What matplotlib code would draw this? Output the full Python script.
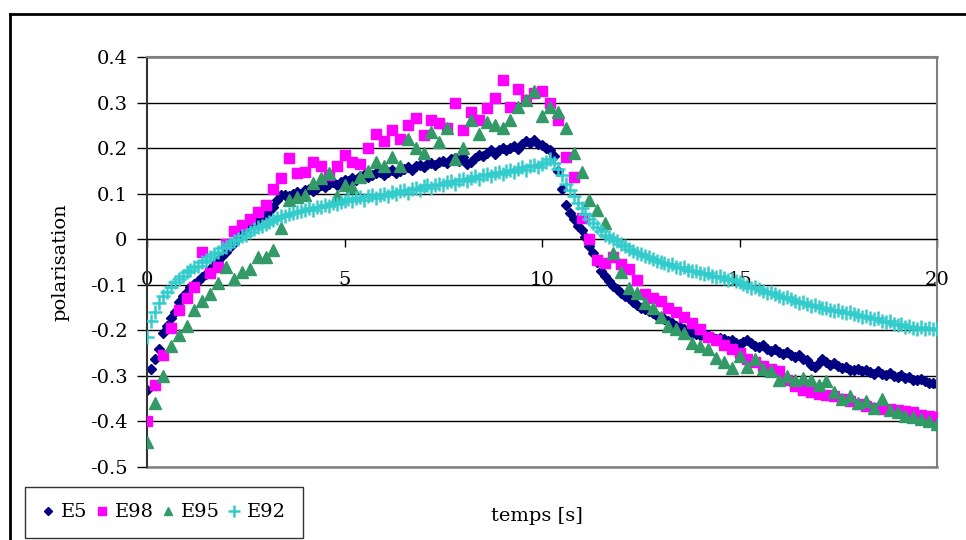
import numpy as np
import matplotlib
matplotlib.use('Agg')
import matplotlib.pyplot as plt
from matplotlib.lines import Line2D
from matplotlib.ticker import FuncFormatter

plt.rcParams['font.family'] = ['DejaVu Serif']

# time grids (ps)
t_fine = np.round(np.arange(0, 20.01, 0.1), 2)
t_coarse = np.round(np.arange(0, 20.01, 0.2), 2)

E5 = [-0.33, -0.285, -0.262, -0.24, -0.205, -0.19, -0.172, -0.16, -0.138, -0.125,
      -0.115, -0.104, -0.098, -0.092, -0.083, -0.077, -0.066, -0.056, -0.046, -0.036,
      -0.028, -0.018, -0.008, 0.004, 0.015, 0.026, 0.033, 0.038, 0.044, 0.05,
      0.054, 0.062, 0.07, 0.086, 0.096, 0.098, 0.094, 0.1, 0.104, 0.1,
      0.108, 0.11, 0.105, 0.112, 0.118, 0.115, 0.122, 0.125, 0.12, 0.126,
      0.13, 0.128, 0.135, 0.13, 0.138, 0.142, 0.136, 0.14, 0.145, 0.147,
      0.14, 0.148, 0.152, 0.146, 0.15, 0.155, 0.158, 0.152, 0.16, 0.163,
      0.158, 0.165, 0.168, 0.162, 0.17, 0.172, 0.168, 0.175, 0.178, 0.172,
      0.18, 0.165, 0.17, 0.178, 0.185, 0.182, 0.19, 0.195, 0.188, 0.196,
      0.2, 0.195, 0.2, 0.205, 0.198, 0.21, 0.215, 0.212, 0.218, 0.21,
      0.207, 0.2, 0.195, 0.182, 0.15, 0.11, 0.075, 0.058, 0.045, 0.03,
      0.02, 0.005, -0.015, -0.03, -0.05, -0.07, -0.08, -0.092, -0.103, -0.11,
      -0.118, -0.125, -0.13, -0.138, -0.145, -0.15, -0.154, -0.158, -0.163, -0.168,
      -0.172, -0.176, -0.18, -0.185, -0.19, -0.193, -0.197, -0.2, -0.205, -0.208,
      -0.21, -0.212, -0.21, -0.215, -0.218, -0.216, -0.22, -0.224, -0.222, -0.228,
      -0.23, -0.225, -0.222, -0.228, -0.234, -0.236, -0.232, -0.24, -0.245, -0.24,
      -0.247, -0.252, -0.248, -0.254, -0.258, -0.255, -0.262, -0.266, -0.275, -0.28,
      -0.272, -0.264, -0.27, -0.275, -0.272, -0.278, -0.282, -0.28, -0.286, -0.288,
      -0.285, -0.29, -0.287, -0.292, -0.295, -0.29, -0.296, -0.298, -0.293, -0.3,
      -0.302, -0.298, -0.305, -0.303, -0.308, -0.31, -0.306, -0.312, -0.316, -0.315,
      -0.318]

E98 = [-0.40, -0.32, -0.255, -0.195, -0.155, -0.13, -0.105, -0.028, -0.075, -0.06,
       -0.01, 0.018, 0.032, 0.045, 0.06, 0.075, 0.11, 0.135, 0.178, 0.145,
       0.148, 0.17, 0.16, 0.14, 0.16, 0.185, 0.17, 0.165, 0.2, 0.23,
       0.215, 0.24, 0.22, 0.25, 0.266, 0.228, 0.262, 0.255, 0.245, 0.30,
       0.24, 0.28, 0.262, 0.288, 0.31, 0.35, 0.29, 0.33, 0.305, 0.32,
       0.325, 0.30, 0.262, 0.18, 0.137, 0.047, 0.0, -0.045, -0.052, -0.04,
       -0.055, -0.065, -0.09, -0.12, -0.13, -0.135, -0.15, -0.16, -0.17, -0.185,
       -0.198, -0.215, -0.222, -0.232, -0.24, -0.25, -0.262, -0.27, -0.278, -0.285,
       -0.29, -0.31, -0.322, -0.33, -0.335, -0.34, -0.342, -0.345, -0.35, -0.355,
       -0.362, -0.367, -0.37, -0.372, -0.372, -0.375, -0.378, -0.38, -0.385, -0.388,
       -0.39]

E95 = [-0.445, -0.36, -0.3, -0.235, -0.21, -0.19, -0.155, -0.135, -0.12, -0.096,
       -0.06, -0.088, -0.071, -0.065, -0.04, -0.04, -0.023, 0.025, 0.087, 0.093,
       0.098, 0.124, 0.135, 0.145, 0.094, 0.12, 0.115, 0.137, 0.15, 0.17,
       0.16, 0.18, 0.16, 0.22, 0.2, 0.19, 0.235, 0.214, 0.245, 0.175,
       0.2, 0.262, 0.23, 0.258, 0.25, 0.245, 0.262, 0.29, 0.306, 0.325,
       0.27, 0.29, 0.28, 0.245, 0.19, 0.148, 0.087, 0.065, 0.036, -0.03,
       -0.073, -0.106, -0.118, -0.14, -0.15, -0.17, -0.19, -0.198, -0.205, -0.227,
       -0.235, -0.242, -0.26, -0.27, -0.282, -0.257, -0.28, -0.264, -0.285, -0.29,
       -0.308, -0.3, -0.31, -0.305, -0.308, -0.32, -0.312, -0.335, -0.35, -0.345,
       -0.36, -0.355, -0.37, -0.35, -0.375, -0.38, -0.387, -0.39, -0.395, -0.4,
       -0.405]

E92 = [-0.215, -0.18, -0.16, -0.14, -0.125, -0.115, -0.105, -0.095, -0.088, -0.08,
       -0.072, -0.068, -0.06, -0.058, -0.05, -0.045, -0.04, -0.032, -0.028, -0.02,
       -0.016, -0.01, -0.004, 0.0, 0.006, 0.01, 0.016, 0.022, 0.026, 0.03,
       0.034, 0.038, 0.042, 0.046, 0.05, 0.052, 0.055, 0.058, 0.06, 0.062,
       0.064, 0.068, 0.065, 0.071, 0.07, 0.076, 0.073, 0.079, 0.077, 0.082,
       0.084, 0.088, 0.083, 0.09, 0.092, 0.087, 0.094, 0.096, 0.09, 0.098,
       0.1, 0.095, 0.103, 0.1, 0.106, 0.108, 0.102, 0.11, 0.113, 0.108,
       0.116, 0.118, 0.113, 0.12, 0.122, 0.118, 0.125, 0.128, 0.122, 0.13,
       0.132, 0.128, 0.135, 0.138, 0.133, 0.14, 0.143, 0.138, 0.145, 0.148,
       0.143, 0.15, 0.153, 0.148, 0.155, 0.158, 0.152, 0.16, 0.163, 0.158,
       0.166, 0.17, 0.175, 0.168, 0.155, 0.14, 0.122, 0.108, 0.095, 0.08,
       0.068, 0.055, 0.045, 0.036, 0.027, 0.018, 0.01, 0.005, 0.0, -0.005,
       -0.01, -0.015, -0.022, -0.026, -0.03, -0.033, -0.037, -0.04, -0.044, -0.048,
       -0.05, -0.053, -0.056, -0.055, -0.06, -0.063, -0.062, -0.067, -0.07, -0.069,
       -0.074, -0.077, -0.075, -0.08, -0.083, -0.081, -0.086, -0.089, -0.087, -0.092,
       -0.094, -0.098, -0.102, -0.106, -0.104, -0.11, -0.114, -0.117, -0.115, -0.121,
       -0.125, -0.128, -0.126, -0.132, -0.136, -0.14, -0.138, -0.143, -0.146, -0.144,
       -0.149, -0.152, -0.15, -0.155, -0.157, -0.155, -0.16, -0.162, -0.16, -0.165,
       -0.167, -0.17, -0.168, -0.173, -0.176, -0.174, -0.18, -0.182, -0.18, -0.186,
       -0.189, -0.187, -0.192, -0.19, -0.194, -0.196, -0.193, -0.198, -0.195, -0.197,
       -0.196]

x_ticks = [0, 5, 10, 15, 20]
y_ticks = [0.4, 0.3, 0.2, 0.1, 0.0, -0.1, -0.2, -0.3, -0.4, -0.5]

fig = plt.figure(figsize=(9.66, 5.4), dpi=100)
ax = fig.add_axes([147/966, 73/540, 790/966, 410/540])

# gridlines
for v in y_ticks:
    ax.axhline(v, color='black', lw=1.0, zorder=0)

ax.plot(t_fine, E5, 'D', color='#000080', ms=5.5, mec='#000080', label='E5', zorder=2)
ax.plot(t_coarse, E98, 's', color='#FF00FF', ms=7, mec='#FF00FF', label='E98', zorder=3)
ax.plot(t_coarse, E95, '^', color='#339966', ms=8, mec='#339966', label='E95', zorder=4)
ax.plot(t_fine, E92, '+', color='#33CCCC', ms=10, mew=1.8, label='E92', zorder=5)

ax.set_xlim(0, 20)
ax.set_ylim(-0.5, 0.4)

ax.spines['bottom'].set_position(('data', 0))
ax.spines['bottom'].set_color('black')
ax.spines['left'].set_color('#333333')
ax.spines['left'].set_linewidth(1.5)
for s in ['top', 'right']:
    ax.spines[s].set_color('#808080')
    ax.spines[s].set_linewidth(1.5)
ax.axhline(-0.5, color='#808080', lw=1.8, clip_on=False, zorder=1)
ax.axhline(0.4, color='#808080', lw=1.8, clip_on=False, zorder=1)

ax.set_xticks(x_ticks)
ax.set_yticks(y_ticks)
ax.yaxis.set_major_formatter(FuncFormatter(lambda v, p: '0' if abs(v) < 1e-9 else '%.1f' % v))
ax.tick_params(axis='x', direction='out', length=6, width=1, pad=17, labelsize=14, colors='black')
ax.tick_params(axis='y', direction='out', length=7, width=1, pad=7, labelsize=14, colors='black')

fig.text(60/966, 1 - 262/540, 'polarisation', rotation=90, ha='center', va='center', fontsize=14)
fig.text(537/966, 1 - 516/540, 'temps [s]', ha='center', va='center', fontsize=14)

leg = fig.legend(loc='lower left', bbox_to_anchor=(25/966, 2/540), ncol=4, fontsize=14,
                 frameon=True, fancybox=False, handlelength=0.7, handletextpad=0.3,
                 columnspacing=0.4, borderpad=0.85, borderaxespad=0, markerscale=0.8)
leg.get_frame().set_edgecolor('black')
leg.get_frame().set_linewidth(1.0)

# outer chart frame
fig.add_artist(Line2D([10/966, 10/966], [0, 1 - 14/540], color='black', lw=2))
fig.add_artist(Line2D([10/966, 1], [1 - 14/540, 1 - 14/540], color='black', lw=2))

fig.savefig('out.png', dpi=100)
